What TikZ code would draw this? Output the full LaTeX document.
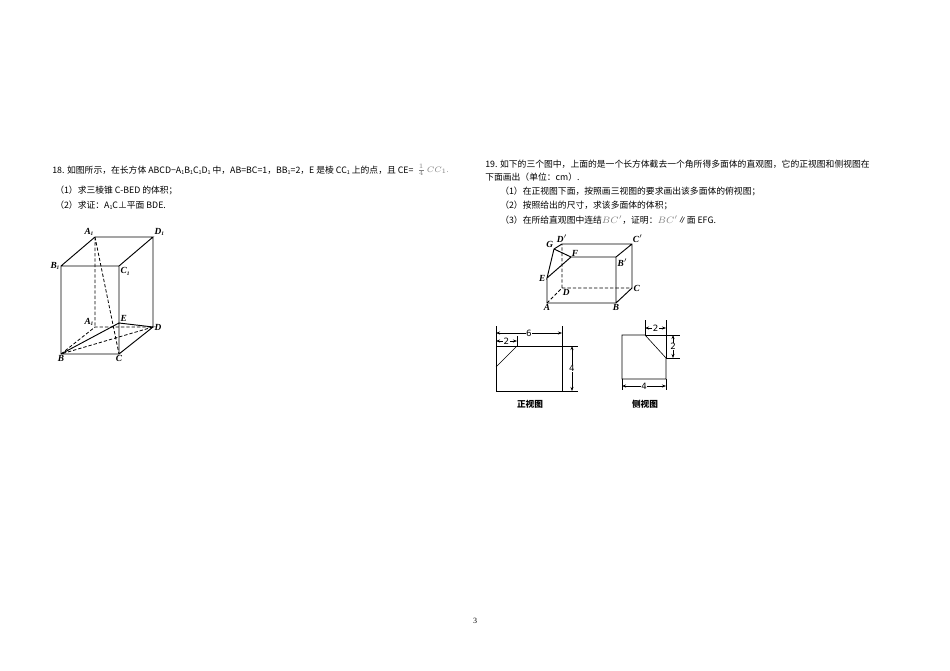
\documentclass[tikz,border=0pt]{standalone}
\usepackage{fontspec}
\setmainfont{Liberation Serif}
\newfontfamily\cjk{Noto Sans CJK SC}
\newfontfamily\lsans{DejaVu Sans}
\usetikzlibrary{arrows.meta}
\newcommand\sbs[1]{\raisebox{-0.3ex}{\fontsize{4}{4}\selectfont #1}}
\begin{document}
\begin{tikzpicture}[x=0.75pt,y=-0.75pt,
  txt/.style={anchor=west,inner sep=0,font=\cjk\fontsize{6.6}{7}\selectfont},
  lab/.style={inner sep=1pt,font=\bfseries\itshape\fontsize{7}{8}\selectfont},
  edge/.style={line width=0.7pt},
  hid/.style={line width=0.6pt,dash pattern=on 2.5pt off 1.5pt},
  thin/.style={line width=0.45pt},
  dim/.style={line width=0.45pt,{Stealth[length=3pt]}-{Stealth[length=3pt]}},
  num/.style={fill=white,inner sep=0.5pt,font=\lsans\fontsize{6.5}{7}\selectfont}]
\useasboundingbox (0,0) rectangle (950,671);
% problem 18 text
\node[txt] (t1) at (52,170) {18. 如图所示，在长方体 ABCD−A\sbs{1}B\sbs{1}C\sbs{1}D\sbs{1} 中，AB=BC=1，BB\sbs{1}=2，E 是棱 CC\sbs{1} 上的点，且 CE=};
\node[anchor=west,inner sep=0,xshift=2.5pt,text=gray,font=\fontsize{6}{6}\selectfont] (t1b) at (t1.east) {$\frac{1}{4}\,CC_1$.};
\node[txt] (t2) at (55,190) {（1）求三棱锥 C-BED 的体积；};
\node[txt] (t3) at (55,205) {（2）求证：A\sbs{1}C⊥平面 BDE.};
% cube 18
\coordinate (A1) at (95,237); \coordinate (D1) at (153,237);
\coordinate (B1) at (61,266); \coordinate (C1) at (119,266);
\coordinate (B) at (61,354); \coordinate (C) at (119,354);
\coordinate (A) at (95,327); \coordinate (D) at (153,327);
\coordinate (E) at (119,323);
\draw[edge] (B1)--(A1)--(D1)--(C1)--(B1)--(B)--(C)--(D)--(D1) (C1)--(C) (B)--(E)--(D);
\draw[hid] (A1)--(A) (B)--(A)--(D)--(B) (A1)--(C);
\node[lab,anchor=south east] (lA1) at (A1) {A\sbs{1}};
\node[lab,anchor=south west] (lD1) at (D1) {D\sbs{1}};
\node[lab,anchor=east] (lB1) at (B1) {B\sbs{1}};
\node[lab,anchor=north west] (lC1) at (C1) {C\sbs{1}};
\node[lab,anchor=north] (lB) at (B) {B};
\node[lab,anchor=north] (lC) at (C) {C};
\node[lab,anchor=south east] (lA) at (A) {A\sbs{1}};
\node[lab,anchor=west] (lD) at (D) {D};
\node[lab,anchor=south west] (lE) at (E) {E};
% problem 19 text
\node[txt] (s1) at (485,164) {19. 如下的三个图中，上面的是一个长方体截去一个角所得多面体的直观图，它的正视图和侧视图在};
\node[txt] (s2) at (485,177) {下面画出（单位：cm）.};
\node[txt] (s3) at (500,191) {（1）在正视图下面，按照画三视图的要求画出该多面体的俯视图；};
\node[txt] (s4) at (500,205) {（2）按照给出的尺寸，求该多面体的体积；};
\node[txt] (s5) at (500,220) {（3）在所给直观图中连结\textcolor{gray}{$BC'$}，证明：\textcolor{gray}{$BC'$}∥面 EFG.};
% solid 19
\coordinate (pA) at (547,303); \coordinate (pB) at (616,303);
\coordinate (pC) at (632,288); \coordinate (pD) at (562,288);
\coordinate (pDp) at (562,244); \coordinate (pCp) at (632,244);
\coordinate (pBp) at (616,257); \coordinate (pE) at (547,278);
\coordinate (pF) at (571,257); \coordinate (pG) at (554,249);
\draw[edge] (pE)--(pA)--(pB)--(pC)--(pCp)--(pDp)--(pG)--(pE)--(pF)--(pG) (pF)--(pBp)--(pCp) (pBp)--(pB);
\draw[hid] (pA)--(pD)--(pC) (pD)--(pDp);
\node[lab,anchor=north] (lpA) at (pA) {A};
\node[lab,anchor=north] (lpB) at (pB) {B};
\node[lab,anchor=west] (lpC) at (pC) {C};
\node[lab,anchor=north west,inner sep=0.5pt] (lpD) at (pD) {D};
\node[lab,anchor=south] (lpDp) at (pDp) {D$'$};
\node[lab,anchor=south west,inner sep=0.5pt] (lpCp) at (pCp) {C$'$};
\node[lab,anchor=north west] (lpBp) at (pBp) {B$'$};
\node[lab,anchor=east] (lpE) at (pE) {E};
\node[lab,anchor=south west,inner sep=0.5pt] (lpF) at (pF) {F};
\node[lab,anchor=south east,inner sep=0.5pt] (lpG) at (pG) {G};
% front view
\draw[thin] (496,346) rectangle (562,391);
\draw[thin] (496,367)--(517,346);
\draw[thin] (496,346)--(496,326) (562,346)--(562,326) (517,346)--(517,336);
\draw[thin] (562,346)--(578,346) (562,391)--(578,391);
\draw[dim] (496,333)--(562,333) node[num,midway] {6};
\draw[dim] (496,341)--(517,341) node[num,midway] {2};
\draw[dim] (572,346)--(572,391) node[num,midway] {4};
\node[font=\cjk\bfseries\fontsize{6.5}{7}\selectfont] (cap1) at (530,404) {正视图};
% side view
\draw[thin] (645,335)--(622,335)--(622,379)--(666,379)--(666,358)--cycle;
\draw[thin] (645,335)--(680,335) (666,358)--(680,358);
\draw[thin] (645,335)--(645,320) (666,358)--(666,320);
\draw[thin] (622,379)--(622,390) (666,379)--(666,390);
\draw[dim] (645,328)--(666,328) node[num,midway] {2};
\draw[dim] (673,335)--(673,358) node[num,midway] {2};
\draw[dim] (622,386)--(666,386) node[num,midway] {4};
\node[font=\cjk\bfseries\fontsize{6.5}{7}\selectfont] (cap2) at (645,404) {侧视图};
\node[font=\fontsize{6}{7}\selectfont] (pg) at (475,621) {3};
\end{tikzpicture}
\end{document}
